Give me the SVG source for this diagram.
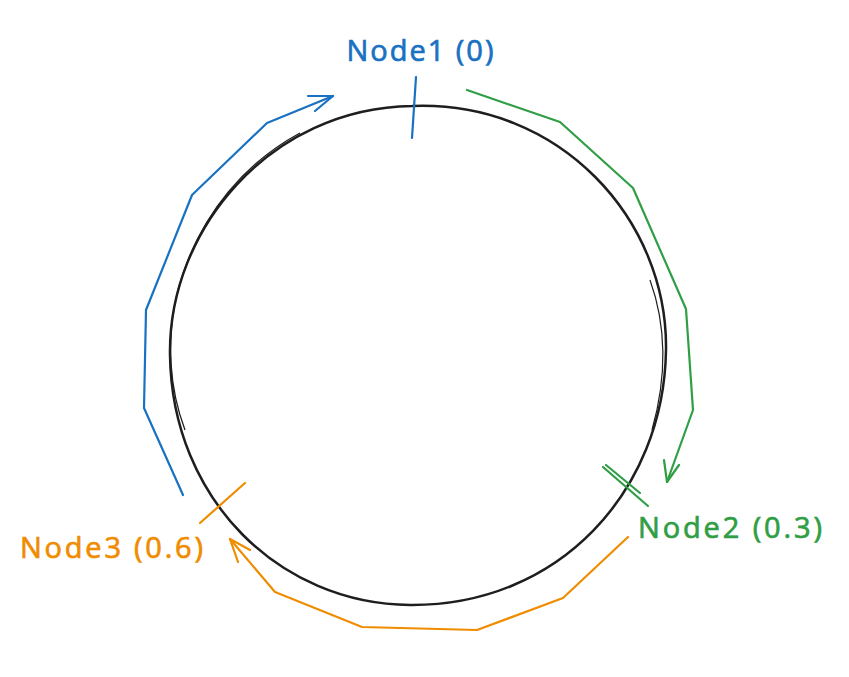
<svg xmlns="http://www.w3.org/2000/svg" width="849" height="677" viewBox="0 0 849 677">
<style>
.lbl{font-family:"Open Sans","Liberation Sans",sans-serif;font-size:29px;stroke-width:0.7;}
.c{fill:none;stroke-width:2.2;stroke-linecap:round;stroke-linejoin:round;}
.blue{stroke:#1971c2;} .green{stroke:#2f9e44;} .orange{stroke:#f08c00;}
</style>
<rect width="849" height="677" fill="#ffffff"/>
<g id="ring">
<path d="M412,106 C560,100 668,220 666,350 C664,490 560,606 410,605 C280,604 172,500 170,355 C168,230 270,108 412,106 Z" fill="none" stroke="#1e1e1e" stroke-width="2.5"/>
<path d="M300,133 C250,160 200,210 178,290 C165,340 170,390 185,430" fill="none" stroke="#1e1e1e" stroke-width="1.3"/>
<path d="M650,280 C668,330 666,380 652,430" fill="none" stroke="#1e1e1e" stroke-width="1.2"/>
</g>
<g id="node1">
<line class="c blue" x1="416" y1="77" x2="412" y2="138"/>
<text class="lbl" x="420" y="61" fill="#1971c2" stroke="#1971c2" text-anchor="middle" textLength="147">Node1 (0)</text>
</g>
<g id="node2">
<line class="c green" x1="603" y1="467" x2="648" y2="506"/>
<line class="c green" x1="606" y1="465" x2="640" y2="493" stroke-width="1.2"/>
<text class="lbl" x="638" y="538" fill="#2f9e44" stroke="#2f9e44" textLength="184">Node2 (0.3)</text>
</g>
<g id="node3">
<line class="c orange" x1="200" y1="523" x2="245" y2="483"/>
<text class="lbl" x="20" y="558" fill="#f08c00" stroke="#f08c00" textLength="183">Node3 (0.6)</text>
</g>
<g id="connectors">
<polyline class="c blue" points="183,495 144,408 146,310 192,195 267,123 333,96"/>
<polyline class="c blue" points="308,96 333,96 315,111"/>
<polyline class="c green" points="467,90 560,122 633,188 686,309 693,410 667,482"/>
<polyline class="c green" points="664,460 667,482 679,465"/>
<polyline class="c orange" points="628,537 563,598 477,630 362,627 275,592 230,539"/>
<polyline class="c orange" points="250,550 230,539 238,562"/>
</g>
</svg>
